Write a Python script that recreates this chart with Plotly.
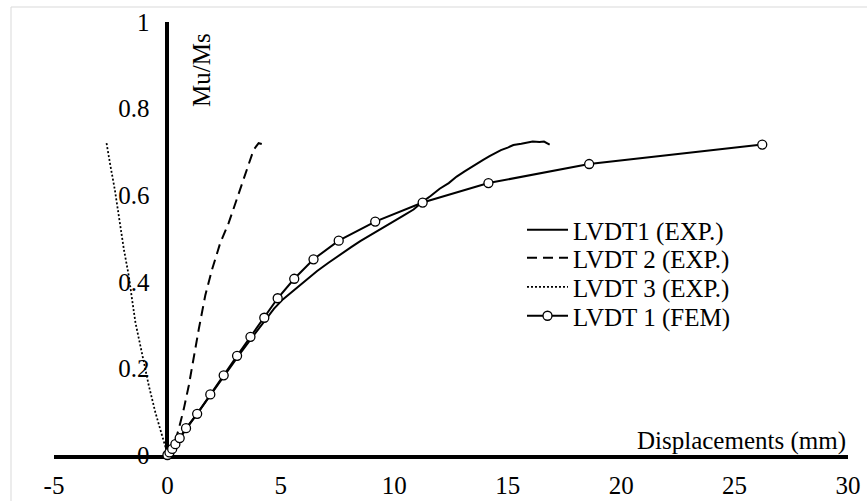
import plotly.graph_objects as go

# Displacement (mm) vs. moment ratio Mu/Ms for each transducer
exp1_x = [0, 0.3, 0.8, 1.4, 2.0, 2.6, 3.2, 3.8, 4.3, 4.7, 5.1, 5.6, 6.1, 6.6, 7.1, 7.6, 8.1, 8.5,
          9.1, 9.5, 10.0, 10.4, 10.85, 11.3, 11.6, 12.0, 12.4, 12.75, 13.1, 13.5, 13.9, 14.2,
          14.7, 15.0, 15.25, 15.6, 15.85, 16.1, 16.4, 16.6, 16.85]
exp1_y = [0, 0.02, 0.058, 0.102, 0.147, 0.19, 0.234, 0.276, 0.310, 0.338, 0.360, 0.382, 0.405,
          0.425, 0.444, 0.463, 0.480, 0.494, 0.512, 0.524, 0.540, 0.553, 0.567, 0.587, 0.598,
          0.615, 0.628, 0.643, 0.655, 0.669, 0.681, 0.690, 0.704, 0.710, 0.716, 0.719, 0.722,
          0.724, 0.723, 0.724, 0.717]

exp2_x = [0, 0.28, 0.5, 0.72, 0.94, 1.16, 1.38, 1.67, 1.97, 2.33, 2.70, 3.0, 3.29, 3.58, 3.80, 4.02, 4.32]
exp2_y = [0, 0.021, 0.060, 0.106, 0.160, 0.229, 0.290, 0.369, 0.429, 0.490, 0.536, 0.582, 0.628,
          0.674, 0.705, 0.720, 0.716]

exp3_x = [0, -0.06, -0.23, -0.53, -0.82, -1.11, -1.41, -1.58, -1.70, -1.92, -2.14, -2.32, -2.51, -2.69]
exp3_y = [0, 0.014, 0.044, 0.098, 0.160, 0.229, 0.306, 0.367, 0.413, 0.475, 0.551, 0.613, 0.667, 0.722]

fem_x = [0, 0.09, 0.21, 0.35, 0.54, 0.82, 1.31, 1.89, 2.48, 3.07, 3.66, 4.27, 4.86, 5.59, 6.44,
         7.55, 9.16, 11.25, 14.15, 18.59, 26.22]
fem_y = [0, 0.006, 0.014, 0.025, 0.039, 0.062, 0.095, 0.140, 0.184, 0.229, 0.273, 0.317, 0.362,
         0.407, 0.452, 0.495, 0.539, 0.583, 0.628, 0.672, 0.717]

x_ticks = [-5, 0, 5, 10, 15, 20, 25, 30]
x_tick_text = ["-5", "0", "5", "10", "15", "20", "25", "30"]
y_ticks = [0, 0.2, 0.4, 0.6, 0.8, 1]
y_tick_text = ["0", "0.2", "0.4", "0.6", "0.8", "1"]

names = ["LVDT1 (EXP.)", "LVDT 2 (EXP.)", "LVDT 3 (EXP.)", "LVDT 1 (FEM)"]

FONT = "Liberation Serif"
FS = 25
X_MIN, X_MAX = -5, 30

fig = go.Figure()
fig.add_trace(go.Scatter(x=exp1_x, y=exp1_y, mode="lines", name=names[0], legend="legend",
                         line=dict(color="black", width=2), cliponaxis=False))
fig.add_trace(go.Scatter(x=exp2_x, y=exp2_y, mode="lines", name=names[1], legend="legend2",
                         line=dict(color="black", width=2, dash="10px,6px"), cliponaxis=False))
fig.add_trace(go.Scatter(x=exp3_x, y=exp3_y, mode="lines", name=names[2], legend="legend3",
                         line=dict(color="black", width=1.75, dash="2px,2px"), cliponaxis=False))
fig.add_trace(go.Scatter(x=fem_x, y=fem_y, mode="lines+markers", name=names[3], legend="legend4",
                         line=dict(color="black", width=2),
                         marker=dict(symbol="circle", size=9, color="white",
                                     line=dict(color="black", width=1.3)),
                         cliponaxis=False))

L, R, T, B = 54, 19, 22, 46
W, H = 867, 501
pw = W - L - R
ph = H - T - B


def px_to_paper(px, py):
    return (px - L) / pw, (H - B - py) / ph


leg_common = dict(font=dict(family=FONT, size=FS, color="black"), bgcolor="rgba(0,0,0,0)",
                  xanchor="left", yanchor="middle", borderwidth=0, tracegroupgap=0,
                  itemwidth=41)
leg_x, _ = px_to_paper(522, 0)
leg_rows = [230, 258, 287, 316]
legends = {}
for i, row in enumerate(leg_rows):
    key = "legend" if i == 0 else f"legend{i + 1}"
    legends[key] = dict(leg_common, x=leg_x, y=px_to_paper(0, row)[1])

fig.update_layout(
    width=W, height=H,
    margin=dict(l=L, r=R, t=T, b=B, autoexpand=False),
    paper_bgcolor="white", plot_bgcolor="white",
    font=dict(family=FONT, size=FS, color="black"),
    showlegend=True,
    **legends,
    xaxis=dict(range=[X_MIN, X_MAX], tickvals=x_ticks, ticktext=x_tick_text,
               showgrid=False, showline=True, linecolor="black", linewidth=4,
               zeroline=True, zerolinecolor="black", zerolinewidth=4,
               ticks="", ticklabelstandoff=5, layer="below traces", automargin=False,
               tickfont=dict(family=FONT, size=FS, color="black")),
    yaxis=dict(range=[0, 1], tickvals=y_ticks, ticktext=y_tick_text,
               anchor="free", position=(0 - X_MIN) / (X_MAX - X_MIN),
               showgrid=False, showline=False, zeroline=False, automargin=False,
               ticks="", ticklabelstandoff=18, layer="below traces",
               tickfont=dict(family=FONT, size=FS, color="black")),
)

# axis titles
mx, my = px_to_paper(201, 70)
fig.add_annotation(text="Mu/Ms", x=mx, y=my, xref="paper", yref="paper", textangle=-90,
                   showarrow=False, xanchor="center", yanchor="middle",
                   font=dict(family=FONT, size=FS, color="black"))
dx, dy = px_to_paper(741, 441)
fig.add_annotation(text="Displacements (mm)", x=dx, y=dy, xref="paper", yref="paper",
                   showarrow=False, xanchor="center", yanchor="middle",
                   font=dict(family=FONT, size=FS, color="black"))

# chart-area frame
fx0, fy1 = px_to_paper(11, 7)
fx1, fy0 = px_to_paper(900, 540)
fig.add_shape(type="rect", xref="paper", yref="paper", x0=fx0, x1=fx1, y0=fy0, y1=fy1,
              line=dict(color="#d9d9d9", width=1), fillcolor="rgba(0,0,0,0)", layer="below")

fig.write_html("out.html")
